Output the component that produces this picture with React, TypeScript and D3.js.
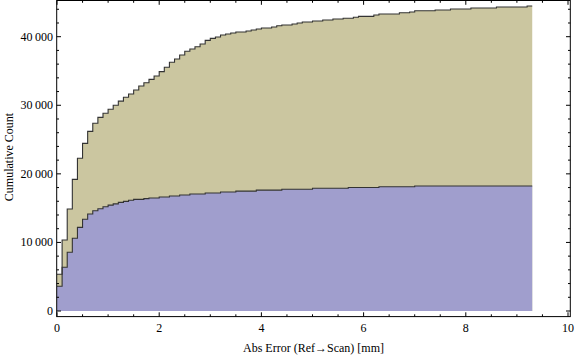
import React from "react";
import * as d3 from "d3";

const binWidth = 0.1;

const totalCounts = [
  5350, 10350, 14870, 19200, 22270, 24450, 26200, 27370, 28240, 28830,
  29410, 30000, 30600, 31160, 31640, 32220, 32800, 33290, 33780, 34270,
  34900, 35540, 36270, 36750, 37330, 37870, 38200, 38540, 38930, 39470,
  39750, 39950, 40250, 40390, 40540, 40680, 40680, 40830, 40970, 41120,
  41260, 41260, 41410, 41600, 41700, 41700, 41850, 41990, 42140, 42140,
  42280, 42280, 42430, 42430, 42580, 42580, 42700, 42700, 42830, 42970,
  42970, 42970, 43160, 43310, 43310, 43310, 43310, 43500, 43500, 43600,
  43790, 43790, 43790, 43790, 43890, 43890, 43890, 44040, 44040, 44040,
  44040, 44180, 44180, 44180, 44180, 44180, 44330, 44330, 44330, 44330,
  44330, 44330, 44470,
];

const subsetCounts = [
  3600, 6370, 8560, 10600, 12200, 13370, 14140, 14620, 14920, 15200,
  15440, 15620, 15840, 15990, 16140, 16280, 16280, 16380, 16480, 16480,
  16620, 16620, 16770, 16770, 16910, 16910, 17060, 17060, 17060, 17210,
  17210, 17210, 17350, 17350, 17350, 17480, 17480, 17480, 17480, 17620,
  17620, 17620, 17620, 17620, 17760, 17760, 17760, 17760, 17760, 17760,
  17900, 17900, 17900, 17900, 17900, 17900, 17900, 18000, 18000, 18000,
  18000, 18000, 18000, 18120, 18120, 18120, 18120, 18120, 18120, 18120,
  18230, 18230, 18230, 18230, 18230, 18230, 18230, 18230, 18230, 18230,
  18230, 18230, 18230, 18230, 18230, 18230, 18230, 18230, 18230, 18230,
  18230, 18230, 18230,
];

const xMajorTicks = [0, 2, 4, 6, 8, 10];
const yMajorTicks = [0, 10000, 20000, 30000, 40000];
const xMinorStep = 0.5;
const yMinorStep = 2000;

const W = 576;
const H = 357;
const frameLeft = 56.7;
const frameRight = 570.3;
const frameTop = 0.5;
const frameBottom = 316.6;

const fmt = (v: number) => {
  const s = String(v);
  if (s.length > 3) return s.slice(0, s.length - 3) + "\u2009" + s.slice(s.length - 3);
  return s;
};

export default function App() {
  const x = d3.scaleLinear().domain([0, 10]).range([57, 568]);
  const y = d3.scaleLinear().domain([0, 40000]).range([311, 36.7]);

  const toPts = (arr: number[]) => {
    const pts: [number, number][] = arr.map((v, i) => [i * binWidth, v]);
    pts.push([arr.length * binWidth, arr[arr.length - 1]]);
    return pts;
  };

  const area = d3
    .area<[number, number]>()
    .x((d) => x(d[0]))
    .y0(y(0))
    .y1((d) => y(d[1]))
    .curve(d3.curveStepAfter);
  const line = d3
    .line<[number, number]>()
    .x((d) => x(d[0]))
    .y((d) => y(d[1]))
    .curve(d3.curveStepAfter);

  const totPts = toPts(totalCounts);
  const subPts = toPts(subsetCounts);

  const xMinor = d3.range(0, 10.01, xMinorStep).filter((v) => !xMajorTicks.includes(v));
  const yMinor = d3.range(0, 45001, yMinorStep).filter((v) => !yMajorTicks.includes(v) && y(v) > frameTop);

  const majLen = 4.3;
  const minLen = 2.3;
  const tickColor = "#000";
  const font = "'Liberation Serif', 'Times New Roman', serif";

  return (
    <svg
      width={W}
      height={H}
      style={{ position: "absolute", left: 0, top: 0, background: "#fff" }}
    >
      <path d={area(totPts) || ""} fill="#cbc6a0" />
      <path d={area(subPts) || ""} fill="#a09ecd" />
      <path d={line(totPts) || ""} fill="none" stroke="#333" strokeWidth={1.1} />
      <path d={line(subPts) || ""} fill="none" stroke="#333" strokeWidth={1.1} />

      {/* frame */}
      <rect
        x={frameLeft}
        y={frameTop}
        width={frameRight - frameLeft}
        height={frameBottom - frameTop}
        fill="none"
        stroke="#000"
        strokeWidth={1}
      />

      {/* x ticks */}
      {xMajorTicks.map((t) => (
        <g key={"xM" + t}>
          <line x1={x(t)} x2={x(t)} y1={frameBottom} y2={frameBottom - majLen} stroke={tickColor} />
          <line x1={x(t)} x2={x(t)} y1={frameTop} y2={frameTop + majLen} stroke={tickColor} />
          <text
            x={x(t)}
            y={332}
            textAnchor="middle"
            fontFamily={font}
            fontSize={12}
            fill="#000"
          >
            {fmt(t)}
          </text>
        </g>
      ))}
      {xMinor.map((t) => (
        <g key={"xm" + t}>
          <line x1={x(t)} x2={x(t)} y1={frameBottom} y2={frameBottom - minLen} stroke={tickColor} />
          <line x1={x(t)} x2={x(t)} y1={frameTop} y2={frameTop + minLen} stroke={tickColor} />
        </g>
      ))}

      {/* y ticks */}
      {yMajorTicks.map((t) => (
        <g key={"yM" + t}>
          <line x1={frameLeft} x2={frameLeft + majLen} y1={y(t)} y2={y(t)} stroke={tickColor} />
          <line x1={frameRight} x2={frameRight - majLen} y1={y(t)} y2={y(t)} stroke={tickColor} />
          <text
            x={53}
            y={y(t) + 4}
            textAnchor="end"
            fontFamily={font}
            fontSize={12}
            fill="#000"
          >
            {fmt(t)}
          </text>
        </g>
      ))}
      {yMinor.map((t) => (
        <g key={"ym" + t}>
          <line x1={frameLeft} x2={frameLeft + minLen} y1={y(t)} y2={y(t)} stroke={tickColor} />
          <line x1={frameRight} x2={frameRight - minLen} y1={y(t)} y2={y(t)} stroke={tickColor} />
        </g>
      ))}

      <text
        x={(frameLeft + frameRight) / 2}
        y={352}
        textAnchor="middle"
        fontFamily={font}
        fontSize={12}
        fill="#000"
      >
        Abs Error (Ref→Scan) [mm]
      </text>
      <text
        transform={`translate(12.5, 157) rotate(-90)`}
        textAnchor="middle"
        fontFamily={font}
        fontSize={12}
        fill="#000"
      >
        Cumulative Count
      </text>
    </svg>
  );
}
